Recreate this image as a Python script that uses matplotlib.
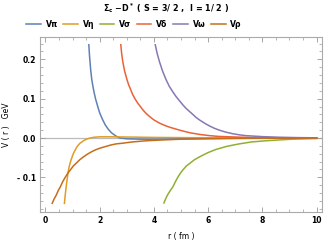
import numpy as np
import matplotlib.pyplot as plt
from matplotlib.ticker import MultipleLocator, FixedLocator

# values (r in fm, V in GeV)
r_pi = [1.60, 1.63, 1.67, 1.71, 1.76, 1.80, 1.85, 1.90, 1.95, 2.00, 2.10, 2.20, 2.32, 2.44, 2.60, 2.75, 3.00, 3.50, 4.00, 5.00, 6.00, 8.00, 10.0]
v_pi = [0.237, 0.205, 0.172, 0.148, 0.128, 0.114, 0.099, 0.087, 0.075, 0.064, 0.048, 0.034, 0.022, 0.013, 0.005, 0.0, -0.002, -0.003, -0.003, -0.002, -0.0012, -0.0004, -0.0001]

r_eta = [0.70, 0.73, 0.77, 0.81, 0.85, 0.90, 0.95, 1.00, 1.04, 1.10, 1.15, 1.21, 1.28, 1.36, 1.45, 1.55, 1.65, 1.80, 2.00, 2.50, 3.00, 4.00, 6.00, 10.0]
v_eta = [-0.166, -0.145, -0.121, -0.100, -0.081, -0.066, -0.055, -0.045, -0.038, -0.030, -0.024, -0.018, -0.013, -0.009, -0.005, -0.002, 0.0, 0.002, 0.003, 0.003, 0.0025, 0.0015, 0.0005, 0.0001]

r_sigma = [4.37, 4.43, 4.50, 4.60, 4.70, 4.80, 4.88, 4.97, 5.07, 5.20, 5.35, 5.50, 5.68, 5.85, 6.00, 6.29, 6.70, 7.14, 7.60, 8.12, 8.60, 9.10, 10.0]
v_sigma = [-0.165, -0.155, -0.145, -0.134, -0.124, -0.110, -0.100, -0.090, -0.081, -0.071, -0.063, -0.055, -0.048, -0.042, -0.037, -0.029, -0.021, -0.015, -0.010, -0.007, -0.005, -0.003, -0.0012]

r_delta = [2.78, 2.81, 2.85, 2.92, 3.00, 3.07, 3.15, 3.22, 3.30, 3.40, 3.50, 3.60, 3.72, 3.85, 4.00, 4.20, 4.40, 4.60, 4.80, 5.00, 5.35, 5.70, 6.05, 6.40, 7.00, 7.50, 8.20, 9.00, 10.0]
v_delta = [0.237, 0.215, 0.195, 0.170, 0.150, 0.135, 0.122, 0.110, 0.100, 0.089, 0.080, 0.071, 0.062, 0.054, 0.046, 0.038, 0.032, 0.027, 0.023, 0.019, 0.013, 0.009, 0.006, 0.004, 0.0025, 0.0015, 0.0008, 0.0004, 0.0002]

r_omega = [4.05, 4.12, 4.20, 4.32, 4.45, 4.57, 4.70, 4.82, 4.95, 5.07, 5.19, 5.32, 5.45, 5.56, 5.68, 5.86, 6.04, 6.22, 6.41, 6.65, 6.90, 7.15, 7.40, 8.00, 8.60, 9.30, 10.0]
v_omega = [0.237, 0.215, 0.195, 0.170, 0.148, 0.131, 0.117, 0.105, 0.094, 0.084, 0.075, 0.067, 0.059, 0.052, 0.046, 0.038, 0.031, 0.025, 0.020, 0.015, 0.011, 0.008, 0.006, 0.0035, 0.002, 0.001, 0.0005]

r_rho = [0.25, 0.32, 0.40, 0.47, 0.55, 0.63, 0.72, 0.82, 0.92, 1.03, 1.15, 1.27, 1.40, 1.55, 1.70, 1.85, 2.00, 2.20, 2.40, 2.60, 2.87, 3.20, 3.72, 4.30, 5.00, 6.00, 7.00, 8.50, 10.0]
v_rho = [-0.166, -0.155, -0.145, -0.134, -0.124, -0.112, -0.101, -0.090, -0.081, -0.071, -0.063, -0.055, -0.048, -0.041, -0.035, -0.030, -0.026, -0.022, -0.018, -0.015, -0.013, -0.010, -0.007, -0.005, -0.003, -0.0018, -0.001, -0.0005, -0.0002]

series = [
    (r"V$\pi$", r_pi, v_pi, "#5E81B5"),
    (r"V$\eta$", r_eta, v_eta, "#E19C24"),
    (r"V$\sigma$", r_sigma, v_sigma, "#8FB032"),
    (r"V$\delta$", r_delta, v_delta, "#EB6235"),
    (r"V$\omega$", r_omega, v_omega, "#8778B3"),
    (r"V$\rho$", r_rho, v_rho, "#C56E1A"),
]

plt.rcParams['font.family'] = 'DejaVu Sans'
plt.rcParams['font.weight'] = 'bold'
plt.rcParams['mathtext.default'] = 'regular'

fig = plt.figure(figsize=(3.32, 2.42), dpi=100)
ax = fig.add_axes([0.1205, 0.124, 0.8495, 0.722])

ax.axhline(0, color="#BBBBBB", lw=0.9, zorder=1)
for label, r, v, col in series:
    ax.plot(r, v, color=col, lw=1.1, label=label, zorder=2,
            solid_joinstyle="round")

ax.set_xlim(-0.2, 10.2)
ax.set_ylim(-0.188, 0.256)
ax.xaxis.set_major_locator(MultipleLocator(2))
ax.xaxis.set_minor_locator(MultipleLocator(0.5))
ax.yaxis.set_major_locator(FixedLocator([-0.1, 0.0, 0.1, 0.2]))
ax.yaxis.set_minor_locator(MultipleLocator(0.02))
ax.set_yticklabels(["- 0.1", "0.0", "0.1", "0.2"])
ax.tick_params(which="both", direction="in", top=True, right=True,
               color="#999999", labelsize=5.5, pad=3)
ax.tick_params(which="major", length=3.5, width=0.6)
ax.tick_params(which="minor", length=2, width=0.5)
for s in ax.spines.values():
    s.set_color("#AAAAAA")
    s.set_linewidth(0.8)

ax.set_xlabel("r ( fm )", fontsize=5.5, labelpad=5)
ax.set_ylabel("V ( r )   GeV", fontsize=5.5, labelpad=4)

fig.text(0.50, 0.968, r"$\Sigma_c$ $-D^*$ ( S = 3/ 2 ,  I = 1/ 2 )",
         ha="center", va="center", fontsize=5.8)
fig.legend(loc="center", bbox_to_anchor=(0.405, 0.90), ncol=6, frameon=False,
           fontsize=5.6, handlelength=1.9, handletextpad=0.5,
           columnspacing=0.6, borderaxespad=0, borderpad=0)

fig.savefig("out.png", dpi=100)
